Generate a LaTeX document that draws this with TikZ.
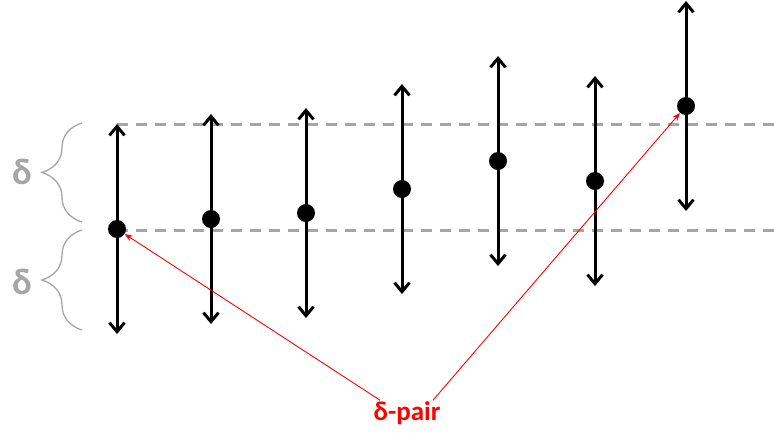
\documentclass[tikz,border=0pt]{standalone}
\usepackage{fontspec}
\setmainfont{Carlito}
\usetikzlibrary{arrows.meta,decorations.pathreplacing,positioning}
\definecolor{lvl}{RGB}{166,166,166}
\definecolor{pairred}{RGB}{255,0,0}

\tikzset{
  pt/.style={circle,fill=black,inner sep=0pt,minimum size=18pt},
  bar/.style={line width=3pt,
    {Straight Barb[length=9pt,width=15pt]}-{Straight Barb[length=9pt,width=15pt]}},
  lvlline/.style={lvl,line width=3pt,dash pattern=on 11pt off 8pt},
  brc/.style={lvl,line width=1.3pt,decorate,decoration={brace,amplitude=40pt}},
  dlbl/.style={lvl,font=\fontsize{37}{40}\selectfont\bfseries,inner sep=0pt},
  pairlbl/.style={pairred,font=\fontsize{27}{30}\selectfont\bfseries,inner sep=1pt},
  pairarr/.style={pairred,line width=0.9pt,-{Stealth[length=8pt,width=6pt]}}
}

\begin{document}
\begin{tikzpicture}[x=1pt, y=-1pt]
  \useasboundingbox (0,0) rectangle (774,432);
  % delta levels
  \coordinate (hi) at (117,124);
  \coordinate (lo) at (117,230);
  \draw[lvlline] (hi) -- ++(657,0);
  \draw[lvlline] (lo) -- ++(657,0);
  % braces
  \draw[brc] (82,222) -- (82,123);
  \draw[brc] (82,330) -- (82,230);
  \node[dlbl] (d1) at (22,172) {δ};
  \node[dlbl] (d2) at (22,282) {δ};
  % estimates with intervals
  \foreach \i/\x/\y in {1/117/229, 2/211/219, 3/306/213, 4/402/189,
                        5/498/161, 6/595/181, 7/686/106} {
    \coordinate (t\i) at (\x,\y-105);
    \coordinate (b\i) at (\x,\y+105);
    \draw[bar] (t\i) -- (b\i);
    \node[pt] (p\i) at (\x,\y) {};
  }
  % delta-pair
  \node[pairlbl] (pair) at (407,413) {δ-pair};
  \draw[pairarr] ([xshift=-27pt]pair.north) -- (p1);
  \draw[pairarr] ([xshift=26pt]pair.north) -- (p7);
\end{tikzpicture}
\end{document}
